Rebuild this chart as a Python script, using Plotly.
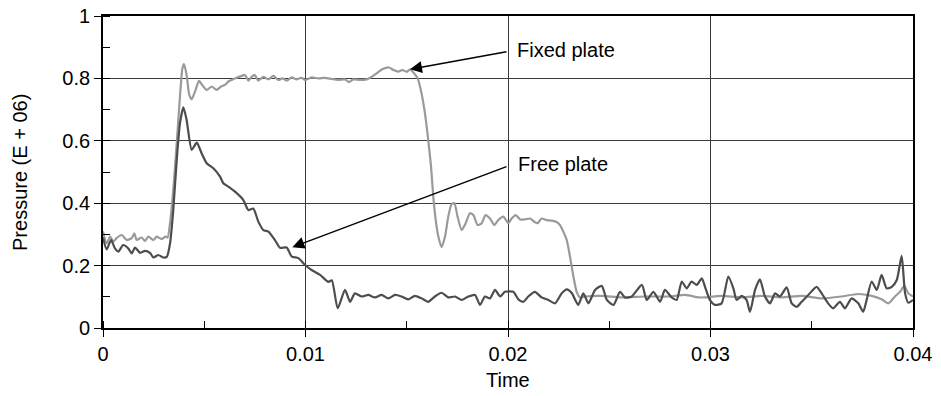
import plotly.graph_objects as go

# Fixed plate (light grey)
fixed_t = [0.0, 0.00018, 0.00035, 0.00051, 0.00067, 0.00092, 0.00117, 0.00141, 0.00155, 0.00166,
           0.00191, 0.00207, 0.00224, 0.00249, 0.00265, 0.0029, 0.00309, 0.00319, 0.00331, 0.00347,
           0.00364, 0.0038, 0.00392, 0.004, 0.00413, 0.00426, 0.00438, 0.00454, 0.00474, 0.0049,
           0.00512, 0.00537, 0.00561, 0.00583, 0.00602, 0.00619, 0.00635, 0.0066, 0.00685, 0.00701,
           0.00718, 0.00734, 0.0075, 0.00767, 0.00792, 0.00817, 0.00841, 0.00866, 0.00886, 0.00907,
           0.00932, 0.00956, 0.00981, 0.00998, 0.0103, 0.01063, 0.01096, 0.0113, 0.01162, 0.01195,
           0.01215, 0.01236, 0.01269, 0.01302, 0.01327, 0.01351, 0.01379, 0.01412, 0.01434, 0.01459,
           0.01478, 0.015, 0.01516, 0.01537, 0.01554, 0.01573, 0.0159, 0.01606, 0.0162, 0.01631,
           0.01643, 0.01656, 0.01672, 0.01689, 0.01705, 0.01721, 0.01735, 0.01751, 0.01771, 0.01791,
           0.01812, 0.01829, 0.0185, 0.0187, 0.01889, 0.01911, 0.01932, 0.01952, 0.01977, 0.02002,
           0.02018, 0.02038, 0.0206, 0.02084, 0.02109, 0.02131, 0.02147, 0.02166, 0.02191, 0.02216,
           0.0224, 0.02257, 0.02273, 0.0229, 0.02306, 0.02323, 0.02339, 0.02356, 0.02381, 0.02463,
           0.02562, 0.02677, 0.02793, 0.02875, 0.02941, 0.02973, 0.03055, 0.03154, 0.03252, 0.03351,
           0.0345, 0.03549, 0.03647, 0.03729, 0.03796, 0.03845, 0.03878, 0.03911, 0.03936, 0.03957,
           0.03977, 0.04]
fixed_p = [0.31, 0.271, 0.293, 0.277, 0.288, 0.298, 0.282, 0.288, 0.303, 0.282,
           0.29, 0.279, 0.293, 0.282, 0.293, 0.285, 0.293, 0.29, 0.336, 0.442,
           0.592, 0.741, 0.832, 0.846, 0.811, 0.747, 0.733, 0.757, 0.792, 0.779,
           0.763, 0.774, 0.763, 0.774, 0.779, 0.79, 0.795, 0.802, 0.808, 0.811,
           0.793, 0.805, 0.811, 0.793, 0.805, 0.797, 0.808, 0.795, 0.8, 0.793,
           0.803, 0.797, 0.802, 0.795, 0.803, 0.8, 0.802, 0.798, 0.795, 0.797,
           0.788, 0.797, 0.795, 0.797, 0.805, 0.816, 0.829, 0.835, 0.827, 0.822,
           0.827, 0.821, 0.829, 0.816, 0.8, 0.752, 0.688, 0.603, 0.517, 0.421,
           0.346, 0.293, 0.259, 0.293, 0.357, 0.397, 0.4, 0.357, 0.314, 0.336,
           0.368, 0.362, 0.33, 0.336, 0.362, 0.351, 0.33, 0.346, 0.357, 0.336,
           0.351, 0.362, 0.348, 0.348, 0.351, 0.34, 0.336, 0.351, 0.346, 0.344,
           0.34, 0.33, 0.309, 0.282, 0.229, 0.165, 0.116, 0.098, 0.101, 0.103,
           0.098, 0.101, 0.101, 0.106, 0.098, 0.098, 0.103, 0.098, 0.103, 0.098,
           0.103, 0.095, 0.101, 0.109, 0.103, 0.092, 0.079, 0.101, 0.116, 0.135,
           0.111, 0.101]

# Free plate (dark grey)
free_t = [0.0, 0.00018, 0.0004, 0.00059, 0.00076, 0.001, 0.00125, 0.00142, 0.00158, 0.00183,
          0.00207, 0.00232, 0.00249, 0.00273, 0.00298, 0.00315, 0.00331, 0.00347, 0.00364, 0.0038,
          0.00397, 0.00413, 0.00438, 0.00463, 0.00487, 0.00512, 0.00545, 0.00578, 0.00594, 0.00619,
          0.00652, 0.00693, 0.00718, 0.00742, 0.00767, 0.00792, 0.00817, 0.00849, 0.00874, 0.00907,
          0.00932, 0.00965, 0.00998, 0.0103, 0.01072, 0.01113, 0.0113, 0.01159, 0.01195, 0.0122,
          0.01244, 0.01277, 0.0131, 0.01343, 0.01376, 0.01409, 0.01442, 0.01474, 0.01507, 0.0154,
          0.01573, 0.01606, 0.01639, 0.01672, 0.01705, 0.01738, 0.01771, 0.01804, 0.01837, 0.01862,
          0.01886, 0.01911, 0.01936, 0.01961, 0.01985, 0.02026, 0.02051, 0.02076, 0.021, 0.02133,
          0.02166, 0.02199, 0.02232, 0.02265, 0.0229, 0.02314, 0.02347, 0.02372, 0.02397, 0.0243,
          0.02463, 0.02488, 0.02521, 0.02553, 0.02578, 0.02611, 0.02661, 0.02685, 0.02718, 0.02751,
          0.02775, 0.02808, 0.02833, 0.02858, 0.02882, 0.02907, 0.02932, 0.02957, 0.02973, 0.02997,
          0.03022, 0.03055, 0.03088, 0.03113, 0.03129, 0.03154, 0.03178, 0.03195, 0.0322, 0.03244,
          0.03269, 0.03294, 0.03319, 0.03343, 0.03376, 0.03401, 0.03426, 0.0345, 0.03483, 0.03524,
          0.03549, 0.03581, 0.03606, 0.03639, 0.03664, 0.03697, 0.0373, 0.03754, 0.03771, 0.03796,
          0.03821, 0.03845, 0.0387, 0.03895, 0.0392, 0.03944, 0.03961, 0.03977, 0.04]
free_p = [0.29, 0.252, 0.282, 0.255, 0.245, 0.266, 0.255, 0.239, 0.258, 0.241,
          0.247, 0.241, 0.226, 0.234, 0.226, 0.228, 0.271, 0.378, 0.538, 0.656,
          0.707, 0.667, 0.571, 0.594, 0.56, 0.528, 0.512, 0.485, 0.464, 0.453,
          0.437, 0.41, 0.378, 0.383, 0.341, 0.314, 0.309, 0.282, 0.257, 0.258,
          0.229, 0.224, 0.202, 0.186, 0.17, 0.148, 0.153, 0.063, 0.122, 0.084,
          0.111, 0.101, 0.106, 0.098, 0.106, 0.095, 0.106, 0.101, 0.092, 0.103,
          0.095, 0.084, 0.101, 0.113, 0.098, 0.101, 0.09, 0.101, 0.106, 0.074,
          0.101, 0.095, 0.122, 0.101, 0.116, 0.116, 0.092, 0.084, 0.101, 0.116,
          0.098, 0.09, 0.079, 0.111, 0.124, 0.113, 0.074, 0.111, 0.079, 0.122,
          0.135, 0.09, 0.074, 0.116, 0.098, 0.101, 0.138, 0.09, 0.116, 0.084,
          0.122, 0.098, 0.09, 0.149, 0.127, 0.149, 0.138, 0.159, 0.132, 0.09,
          0.074, 0.079, 0.165, 0.127, 0.09, 0.103, 0.09, 0.052, 0.122, 0.156,
          0.101, 0.079, 0.111, 0.101, 0.13, 0.079, 0.068, 0.084, 0.106, 0.132,
          0.111, 0.079, 0.063, 0.084, 0.063, 0.095, 0.079, 0.052, 0.09, 0.149,
          0.122, 0.17, 0.127, 0.132, 0.154, 0.231, 0.111, 0.081, 0.09]

x_ticks = [0, 0.01, 0.02, 0.03, 0.04]
x_tick_text = ["0", "0.01", "0.02", "0.03", "0.04"]
y_ticks = [0, 0.2, 0.4, 0.6, 0.8, 1]
y_tick_text = ["0", "0.2", "0.4", "0.6", "0.8", "1"]

FONT = "Liberation Sans, Arial, sans-serif"

fig = go.Figure()
fig.add_trace(go.Scatter(x=fixed_t, y=fixed_p, mode="lines", name="Fixed plate",
                         line=dict(color="#9a9a9a", width=2.2, shape="spline", smoothing=0.6)))
fig.add_trace(go.Scatter(x=free_t, y=free_p, mode="lines", name="Free plate",
                         line=dict(color="#4d4d4d", width=2.2, shape="spline", smoothing=0.6)))

axis_common = dict(showline=True, linecolor="black", linewidth=1.8, mirror=True,
                   ticks="outside", ticklen=7, tickcolor="black", tickwidth=1,
                   showgrid=True, gridcolor="#3a3a3a", gridwidth=1.1, zeroline=False,
                   automargin=False,
                   tickfont=dict(family=FONT, size=20, color="black"))

fig.update_xaxes(range=[0, 0.04], tickvals=x_ticks, ticktext=x_tick_text,
                 minor=dict(dtick=0.005, tick0=0, ticks="inside", ticklen=7, tickcolor="black", showgrid=False),
                 **axis_common)
fig.update_yaxes(range=[0, 1], tickvals=y_ticks, ticktext=y_tick_text,
                 minor=dict(dtick=0.1, tick0=0, ticks="inside", ticklen=7, tickcolor="black", showgrid=False),
                 **axis_common)

# axis titles
fig.add_annotation(x=0.5, y=-0.167, xref="paper", yref="paper", text="Time", showarrow=False,
                   xanchor="center", yanchor="middle", font=dict(family=FONT, size=20, color="black"))
fig.add_annotation(x=-0.1025, y=0.5, xref="paper", yref="paper", text="Pressure (E + 06)", showarrow=False,
                   textangle=-90, xanchor="center", yanchor="middle", font=dict(family=FONT, size=20, color="black"))

# arrows
fig.add_annotation(x=0.01516, y=0.829, ax=0.0200, ay=0.886, axref="x", ayref="y", xref="x", yref="y",
                   text="", showarrow=True, arrowhead=2, arrowsize=1.6, arrowwidth=1.5, arrowcolor="black")
fig.add_annotation(x=0.00935, y=0.259, ax=0.0200, ay=0.519, axref="x", ayref="y", xref="x", yref="y",
                   text="", showarrow=True, arrowhead=2, arrowsize=1.6, arrowwidth=1.5, arrowcolor="black")
fig.add_annotation(x=0.02035, y=0.891, xref="x", yref="y", text="Fixed plate", showarrow=False,
                   xanchor="left", yanchor="middle", font=dict(family=FONT, size=20, color="black"))
fig.add_annotation(x=0.0204, y=0.526, xref="x", yref="y", text="Free plate", showarrow=False,
                   xanchor="left", yanchor="middle", font=dict(family=FONT, size=20, color="black"))

fig.update_layout(width=941, height=396, margin=dict(l=103, r=28, t=16, b=68),
                  plot_bgcolor="white", paper_bgcolor="white", showlegend=False,
                  font=dict(family=FONT, color="black"))

fig.write_html("out.html")
